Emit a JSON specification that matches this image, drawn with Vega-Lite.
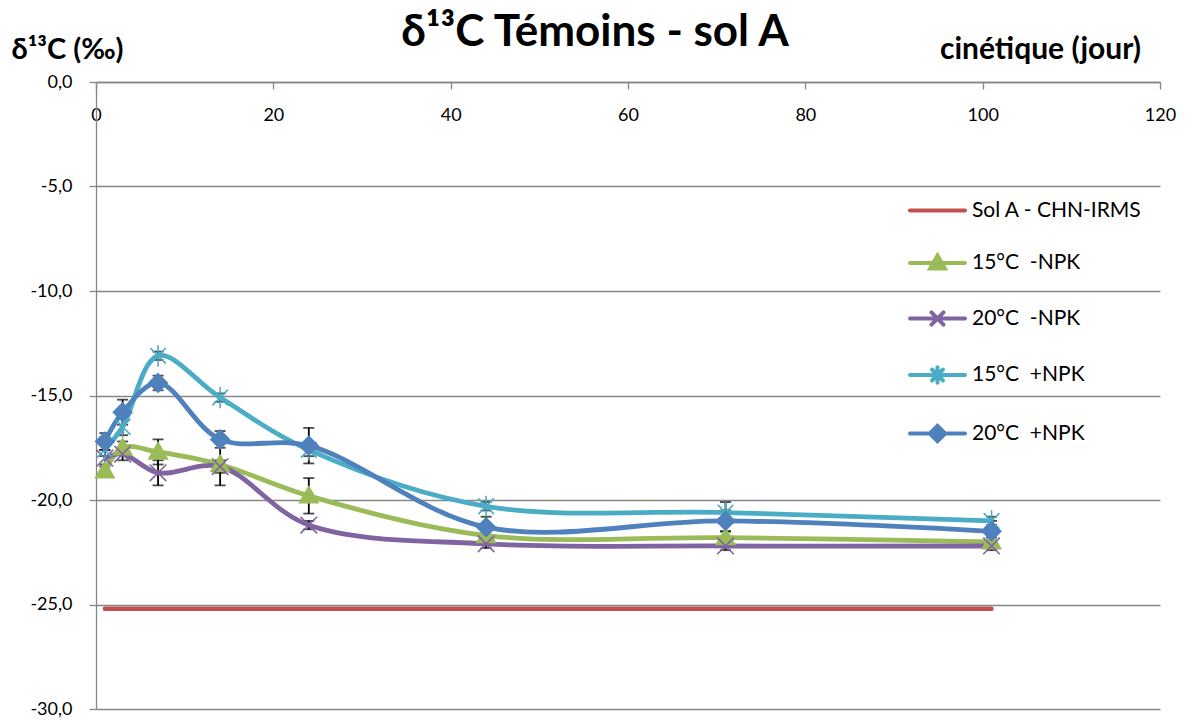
{
  "$schema": "https://vega.github.io/schema/vega-lite/v6.json",
  "width": 1064,
  "height": 627,
  "autosize": {"type": "none"},
  "padding": {"left": 96, "top": 82, "right": 26, "bottom": 11},
  "background": "white",
  "title": {"text": "δ¹³C Témoins - sol A", "font": "Lato", "fontSize": 44, "fontWeight": "bold", "color": "black", "anchor": "middle", "frame": "group", "dx": -33, "offset": -56, "baseline": "alphabetic"},
  "config": {"view": {"stroke": null}, "font": "Lato"},
  "datasets": {
    "ref": [
      {"series": "Sol A - CHN-IRMS", "day": 1, "d13C": -25.2},
      {"series": "Sol A - CHN-IRMS", "day": 101, "d13C": -25.2}
    ],
    "obs": [
      {"series": "15°C\u00a0\u00a0-NPK", "day": 1, "d13C": -18.6, "err": 0.3},
      {"series": "15°C\u00a0\u00a0-NPK", "day": 3, "d13C": -17.5, "err": 0.3},
      {"series": "15°C\u00a0\u00a0-NPK", "day": 7, "d13C": -17.7, "err": 0.6},
      {"series": "15°C\u00a0\u00a0-NPK", "day": 14, "d13C": -18.3, "err": 1.0},
      {"series": "15°C\u00a0\u00a0-NPK", "day": 24, "d13C": -19.8, "err": 0.85},
      {"series": "15°C\u00a0\u00a0-NPK", "day": 44, "d13C": -21.7, "err": 0.2},
      {"series": "15°C\u00a0\u00a0-NPK", "day": 71, "d13C": -21.8, "err": 0.3},
      {"series": "15°C\u00a0\u00a0-NPK", "day": 101, "d13C": -22.0, "err": 0.2},
      {"series": "20°C\u00a0\u00a0-NPK", "day": 1, "d13C": -18.0, "err": 0.4},
      {"series": "20°C\u00a0\u00a0-NPK", "day": 3, "d13C": -17.8, "err": 0.3},
      {"series": "20°C\u00a0\u00a0-NPK", "day": 7, "d13C": -18.7, "err": 0.6},
      {"series": "20°C\u00a0\u00a0-NPK", "day": 14, "d13C": -18.4, "err": 0.3},
      {"series": "20°C\u00a0\u00a0-NPK", "day": 24, "d13C": -21.2, "err": 0.2},
      {"series": "20°C\u00a0\u00a0-NPK", "day": 44, "d13C": -22.1, "err": 0.2},
      {"series": "20°C\u00a0\u00a0-NPK", "day": 71, "d13C": -22.2, "err": 0.2},
      {"series": "20°C\u00a0\u00a0-NPK", "day": 101, "d13C": -22.2, "err": 0.2},
      {"series": "15°C\u00a0\u00a0+NPK", "day": 1, "d13C": -17.6, "err": 0.3},
      {"series": "15°C\u00a0\u00a0+NPK", "day": 3, "d13C": -16.5, "err": 0.4},
      {"series": "15°C\u00a0\u00a0+NPK", "day": 7, "d13C": -13.1, "err": 0.2},
      {"series": "15°C\u00a0\u00a0+NPK", "day": 14, "d13C": -15.1, "err": 0.2},
      {"series": "15°C\u00a0\u00a0+NPK", "day": 24, "d13C": -17.6, "err": 0.3},
      {"series": "15°C\u00a0\u00a0+NPK", "day": 44, "d13C": -20.3, "err": 0.2},
      {"series": "15°C\u00a0\u00a0+NPK", "day": 71, "d13C": -20.6, "err": 0.5},
      {"series": "15°C\u00a0\u00a0+NPK", "day": 101, "d13C": -21.0, "err": 0.2},
      {"series": "20°C\u00a0\u00a0+NPK", "day": 1, "d13C": -17.2, "err": 0.4},
      {"series": "20°C\u00a0\u00a0+NPK", "day": 3, "d13C": -15.8, "err": 0.6},
      {"series": "20°C\u00a0\u00a0+NPK", "day": 7, "d13C": -14.4, "err": 0.35},
      {"series": "20°C\u00a0\u00a0+NPK", "day": 14, "d13C": -17.1, "err": 0.4},
      {"series": "20°C\u00a0\u00a0+NPK", "day": 24, "d13C": -17.4, "err": 0.85},
      {"series": "20°C\u00a0\u00a0+NPK", "day": 44, "d13C": -21.3, "err": 0.5},
      {"series": "20°C\u00a0\u00a0+NPK", "day": 71, "d13C": -21.0, "err": 0.5},
      {"series": "20°C\u00a0\u00a0+NPK", "day": 101, "d13C": -21.5, "err": 0.5}
    ]
  },
  "encoding": {
    "x": {
      "field": "day", "type": "quantitative",
      "scale": {"domain": [0, 120], "nice": false, "zero": false},
      "axis": {
        "orient": "bottom", "offset": -627, "values": [0, 20, 40, 60, 80, 100, 120],
        "grid": false, "domainColor": "#868686", "domainWidth": 1.3, "tickColor": "#868686", "tickWidth": 1.3, "tickSize": 7,
        "labelFontSize": 18, "labelColor": "black", "labelPadding": 17, "labelFlush": false, "labelOverlap": false, "labelFont": "Lato",
        "title": "cinétique (jour)", "titleX": 944, "titleY": -24, "titleAlign": "center", "titleBaseline": "alphabetic", "titleAngle": 0,
        "titleFontSize": 30, "titleFontWeight": "bold", "titleColor": "black", "titleFont": "Lato"
      }
    },
    "y": {
      "field": "d13C", "type": "quantitative",
      "scale": {"domain": [-30, 0], "nice": false, "zero": false},
      "axis": {
        "orient": "left", "values": [0, -5, -10, -15, -20, -25, -30],
        "grid": true, "gridColor": "#868686", "gridWidth": 1.3,
        "domainColor": "#868686", "domainWidth": 1.3, "tickColor": "#868686", "tickWidth": 1.3, "tickSize": 7,
        "labelFontSize": 18, "labelColor": "black", "labelPadding": 17, "labelFont": "Lato",
        "labelExpr": "(datum.value < 0 ? '-' : '') + replace(format(abs(datum.value), '.1f'), '.', ',')",
        "title": "δ¹³C (‰)", "titleX": -29, "titleY": -24, "titleAlign": "center", "titleBaseline": "alphabetic", "titleAngle": 0,
        "titleFontSize": 29, "titleFontWeight": "bold", "titleColor": "black", "titleFont": "Lato"
      }
    }
  },
  "layer": [
    {
      "data": {"name": "ref"},
      "mark": {"type": "line", "strokeWidth": 4.5, "strokeCap": "round"},
      "encoding": {
        "color": {
          "field": "series", "type": "nominal",
          "scale": {
            "domain": ["Sol A - CHN-IRMS", "15°C\u00a0\u00a0-NPK", "20°C\u00a0\u00a0-NPK", "15°C\u00a0\u00a0+NPK", "20°C\u00a0\u00a0+NPK"],
            "range": ["#C0504D", "#9BBB59", "#8064A2", "#4BACC6", "#4F81BD"]
          },
          "legend": {
            "orient": "none", "legendX": 812, "legendY": 99, "title": null, "padding": 0,
            "symbolSize": 3025, "symbolStrokeWidth": 4, "rowPadding": 12.5, "labelOffset": 5,
            "labelFontSize": 21, "labelColor": "black", "labelFont": "Lato", "labelLimit": 300,
            "encode": {
              "symbols": {
                "update": {
                  "shape": {"signal": "datum.value === 'Sol A - CHN-IRMS' ? 'M-1,0H1' : datum.value === '15°C\u00a0\u00a0-NPK' ? 'M-1,0H1M0,-0.27L0.27,0.2L-0.27,0.2Z' : datum.value === '20°C\u00a0\u00a0-NPK' ? 'M-1,0H1M-0.22,-0.22L0.22,0.22M-0.22,0.22L0.22,-0.22' : datum.value === '15°C\u00a0\u00a0+NPK' ? 'M-1,0H1M-0.2,-0.2L0.2,0.2M-0.2,0.2L0.2,-0.2M0,-0.28V0.28' : 'M-1,0H1M0,-0.28L0.28,0L0,0.28L-0.28,0Z'"},
                  "fill": {"scale": "color", "field": "value"},
                  "stroke": {"scale": "color", "field": "value"},
                  "strokeWidth": {"value": 4},
                  "strokeCap": {"value": "round"}
                }
              }
            }
          }
        }
      }
    },
    {
      "data": {"name": "obs"},
      "mark": {"type": "errorbar", "color": "black", "thickness": 1.8, "ticks": {"size": 11, "thickness": 1.8, "color": "black"}},
      "encoding": {
        "yError": {"field": "err"}
      }
    },
    {
      "data": {"name": "obs"},
      "mark": {"type": "line", "strokeWidth": 4.8, "interpolate": "catmull-rom"},
      "encoding": {
        "color": {"field": "series", "type": "nominal"}
      }
    },
    {
      "data": {"name": "obs"},
      "mark": {"type": "point", "filled": true, "size": 340, "strokeWidth": 1.6, "opacity": 1},
      "encoding": {
        "color": {"field": "series", "type": "nominal"},
        "stroke": {
          "field": "series", "type": "nominal", "legend": null,
          "scale": {
            "domain": ["Sol A - CHN-IRMS", "15°C\u00a0\u00a0-NPK", "20°C\u00a0\u00a0-NPK", "15°C\u00a0\u00a0+NPK", "20°C\u00a0\u00a0+NPK"],
            "range": ["#C0504D", "#9BBB59", "#8064A2", "#4BACC6", "#4F81BD"]
          }
        },
        "shape": {
          "field": "series", "type": "nominal", "legend": null,
          "scale": {
            "domain": ["15°C\u00a0\u00a0-NPK", "20°C\u00a0\u00a0-NPK", "15°C\u00a0\u00a0+NPK", "20°C\u00a0\u00a0+NPK"],
            "range": [
              "M0,-1L1,0.75L-1,0.75Z",
              "M-0.9,-0.9L0.9,0.9M-0.9,0.9L0.9,-0.9",
              "M-0.85,-0.85L0.85,0.85M-0.85,0.85L0.85,-0.85M0,-1.15V1.15",
              "M0,-1L1,0L0,1L-1,0Z"
            ]
          }
        }
      }
    }
  ]
}
